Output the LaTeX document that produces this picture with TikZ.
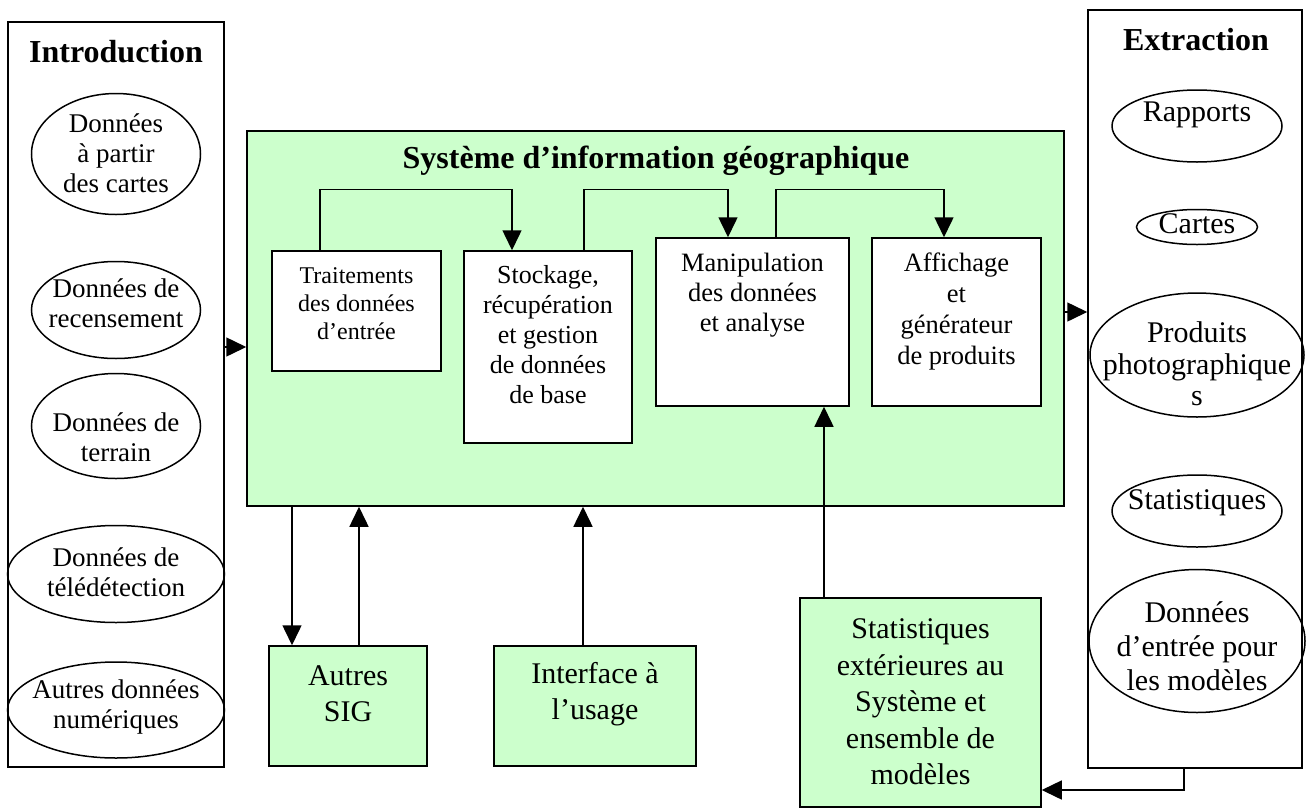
\documentclass[tikz,border=0pt]{standalone}
\usepackage{fontspec}
\setmainfont{Liberation Serif}
\usetikzlibrary{shapes.geometric,arrows.meta}
\definecolor{sigreen}{HTML}{CCFFCC}
\newcommand\myfs[2]{\fontsize{#1}{#2}\selectfont}
\begin{document}
\begin{tikzpicture}[x=1pt,y=-1pt,
  frame/.style={draw, line width=1.5pt, inner sep=0pt},
  ell/.style={draw, ellipse, line width=1.5pt, inner sep=0pt},
  gbox/.style={frame, fill=sigreen},
  wbox/.style={frame, fill=white},
  lbl/.style={align=center, inner sep=0pt},
  ttl/.style={lbl, font=\myfs{32}{36}\bfseries},
  arr/.style={line width=1.5pt, -{Triangle[length=20pt,width=19pt]}},
]
\useasboundingbox (0,0) rectangle (1306,809);

% --- Introduction column
\node[frame, minimum width=216pt, minimum height=745pt] (intro) at (116,394.5) {};
\node[ttl] (introt) at (116,52) {Introduction};
\node[ell, minimum width=169pt, minimum height=121pt] (i1) at (116,154) {};
\node[lbl, font=\myfs{27}{30}] (i1t) at (116,153) {Données\\à partir\\des cartes};
\node[ell, minimum width=169pt, minimum height=97pt] (i2) at (116,310) {};
\node[lbl, font=\myfs{27}{30}] (i2t) at (116,303) {Données de\\recensement};
\node[ell, minimum width=169pt, minimum height=105pt] (i3) at (116,426) {};
\node[lbl, font=\myfs{27}{30}] (i3t) at (116,437) {Données de\\terrain};
\node[ell, minimum width=217pt, minimum height=97pt] (i4) at (116,574) {};
\node[lbl, font=\myfs{27}{30}] (i4t) at (116,572) {Données de\\télédétection};
\node[ell, minimum width=217pt, minimum height=96pt] (i5) at (116,710) {};
\node[lbl, font=\myfs{27}{30}] (i5t) at (116,707) {Autres données\\numériques};

% --- Extraction column
\node[frame, minimum width=214pt, minimum height=758pt] (extr) at (1195,389) {};
\node[ttl] (extrt) at (1196,40) {Extraction};
\node[ell, minimum width=170pt, minimum height=72pt] (x1) at (1197,126) {};
\node[lbl, font=\myfs{30}{32}] (x1t) at (1197,115) {Rapports};
\node[ell, minimum width=121pt, minimum height=35pt] (x2) at (1197,227) {};
\node[lbl, font=\myfs{30}{32}] (x2t) at (1197,224) {Cartes};
\node[ell, minimum width=214pt, minimum height=124pt] (x3) at (1197,355) {};
\node[lbl, font=\myfs{30}{31.5}] (x3t) at (1197,364) {Produits\\photographique\\s};
\node[ell, minimum width=170pt, minimum height=72pt] (x4) at (1197,511) {};
\node[lbl, font=\myfs{30}{32}] (x4t) at (1197,503) {Statistiques};
\node[ell, minimum width=216pt, minimum height=143pt] (x5) at (1197,641) {};
\node[lbl, font=\myfs{30}{34}] (x5t) at (1197,646) {Données\\d’entrée pour\\les modèles};

% --- SIG
\node[gbox, minimum width=817pt, minimum height=375pt] (sig) at (655.5,318.5) {};
\node[ttl] (sigt) at (656,161) {Système d’information géographique};
\node[wbox, minimum width=169pt, minimum height=120pt] (t1) at (356.5,311) {};
\node[lbl, font=\myfs{24}{28}] (t1t) at (356.5,304) {Traitements\\des données\\d’entrée};
\node[wbox, minimum width=168pt, minimum height=192pt] (t2) at (548,347) {};
\node[lbl, font=\myfs{26}{30}] (t2t) at (548,335) {Stockage,\\récupération\\et gestion\\de données\\de base};
\node[wbox, minimum width=193pt, minimum height=168pt] (t3) at (752.5,322) {};
\node[lbl, font=\myfs{26.5}{30}] (t3t) at (752.5,295) {Manipulation\\des données\\et analyse};
\node[wbox, minimum width=169pt, minimum height=168pt] (t4) at (956.5,322) {};
\node[lbl, font=\myfs{26.5}{31}] (t4t) at (956.5,311) {Affichage\\et\\générateur\\de produits};

% --- bottom boxes
\node[gbox, minimum width=158pt, minimum height=120pt] (autres) at (348,706) {};
\node[lbl, font=\myfs{30}{36}] (autrest) at (348,694) {Autres\\SIG};
\node[gbox, minimum width=202pt, minimum height=120pt] (iface) at (595,706) {};
\node[lbl, font=\myfs{30}{36}] (ifacet) at (595,694) {Interface à\\l’usage};
\node[gbox, minimum width=241pt, minimum height=209pt] (stat) at (920.5,702.5) {};
\node[lbl, font=\myfs{30}{36.5}] (statt) at (920.5,702) {Statistiques\\extérieures au\\Système et\\ensemble de\\modèles};

% --- connectors
\draw[arr] (intro.east |- 0,347) -- (sig.west |- 0,347);
\draw[arr] (sig.east |- 0,312) -- (extr.west |- 0,312);
\draw[arr] (t1.north -| 320,0) -- ++(0,-61) -| (t2.north -| 512,0);
\draw[arr] (t2.north -| 584,0) -- ++(0,-61) -| (t3.north -| 728,0);
\draw[arr] (t3.north -| 776,0) -- ++(0,-48) -| (t4.north -| 944,0);
\draw[arr] (sig.south -| 292,0) -- (autres.north -| 292,0);
\draw[arr] (autres.north -| 359,0) -- (sig.south -| 359,0);
\draw[arr] (iface.north -| 583,0) -- (sig.south -| 583,0);
\draw[arr] (stat.north -| 824,0) -- (t3.south -| 824,0);
\draw[arr] (extr.south -| 1184,0) |- (stat.east |- 0,790);
\end{tikzpicture}
\end{document}
